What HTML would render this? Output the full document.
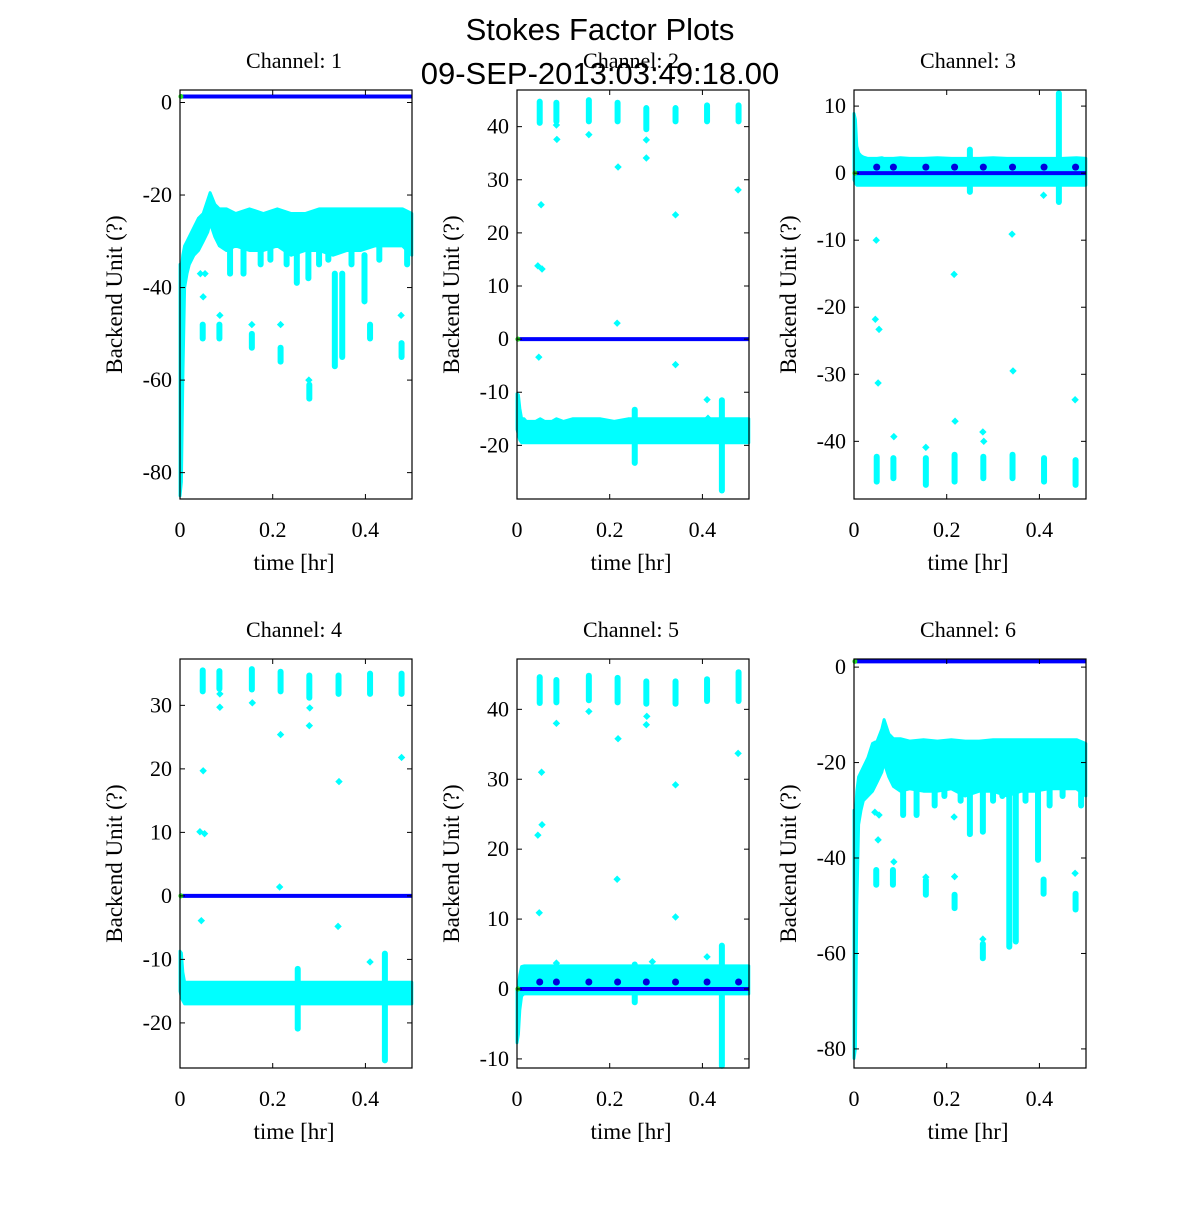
<!DOCTYPE html>
<html><head><meta charset="utf-8"><style>
html,body{margin:0;padding:0;background:#fff;}
svg text{font-family:"Liberation Serif",serif;fill:#000;}
</style></head><body>
<svg id="chart" width="1200" height="1200" viewBox="0 0 1200 1200" xmlns="http://www.w3.org/2000/svg">
<rect width="1200" height="1200" fill="#fff"/>
<text x="600" y="40" text-anchor="middle" style="font-family:'Liberation Sans',sans-serif;font-size:31px">Stokes Factor Plots</text>
<g id="panels"></g>
<text x="600" y="84" text-anchor="middle" style="font-family:'Liberation Sans',sans-serif;font-size:31px">09-SEP-2013:03:49:18.00</text>
</svg>
<script>
// shared band sample times (hr)
const bandT = [0,0.003,0.006,0.01,0.015,0.02,0.03,0.04,0.05,0.06,0.065,0.075,0.085,0.1,0.12,0.15,0.18,0.21,0.24,0.27,0.3,0.33,0.36,0.39,0.42,0.45,0.48,0.5];
const xTicks = [0,0.2,0.4];
const xTickLabels = ["0","0.2","0.4"];
const clusterT = [0.049,0.085,0.155,0.217,0.279,0.342,0.41,0.478];

// Channel 1
const c1Hi = [-35,-36,-33,-31,-30,-29,-27,-25,-24,-21,-19.5,-22,-23,-23,-24,-23,-24,-23,-24,-24,-23,-23,-23,-23,-23,-23,-23,-24];
const c1Lo = [-85,-82,-60,-40,-37,-35,-33,-32,-30,-28,-26,-29,-31,-32,-31,-32,-32,-31,-33,-32,-32,-33,-32,-32,-31,-31,-31,-33];
const c1SpT = [0.108,0.137,0.174,0.252,0.277,0.334,0.35,0.398,0.049,0.085,0.155,0.217,0.279,0.41,0.478,0.195,0.23,0.3,0.32,0.37,0.43,0.49];
const c1SpLo = [-37,-37,-35,-39,-38,-57,-55,-43,-51,-51,-53,-56,-64,-51,-55,-34,-35,-35,-34,-35,-34,-35];
const c1SpHi = [-30,-30,-30,-31,-31,-37,-37,-33,-48,-48,-50,-53,-61,-48,-52,-30,-30,-30,-30,-30,-30,-30];
const c1PtT = [0.046,0.044,0.054,0.05,0.086,0.155,0.217,0.278,0.477];
const c1PtV = [-27,-37,-37,-42,-46,-48,-48,-60,-46];
const c1Blue = [1.3];
const c1Ticks = [0,-20,-40,-60,-80];
const c1Range = [-85.7,2.7];

// Channel 2
const c2Hi = [-10.3,-10.5,-13,-15,-15,-15.5,-15.5,-15.5,-15,-15.5,-15.5,-15.5,-15,-15.5,-15,-15,-15,-15.5,-15,-15,-15,-15,-15,-15,-15,-15,-15,-15];
const c2Lo = [-17,-18,-19,-19.5,-19.5,-19.5,-19.5,-19.5,-19.5,-19.5,-19.5,-19.5,-19.5,-19.5,-19.5,-19.5,-19.5,-19.5,-19.5,-19.5,-19.5,-19.5,-19.5,-19.5,-19.5,-19.5,-19.5,-19.5];
const c2SpT = [0.254,0.442,0.049,0.085,0.155,0.217,0.279,0.342,0.41,0.478];
const c2SpLo = [-23.3,-28.5,40.7,41,41,41,39.5,41,41,41];
const c2SpHi = [-13.3,-11.5,44.7,44.5,45,44.5,43.5,43.5,44,44];
const c2PtT = [0.052,0.045,0.054,0.216,0.047,0.085,0.086,0.155,0.279,0.279,0.218,0.342,0.477,0.342,0.41,0.412];
const c2PtV = [25.3,13.8,13.2,3.0,-3.4,40.3,37.6,38.5,37.5,34.1,32.4,23.4,28.1,-4.8,-11.4,-14.9];
const c2Blue = [0];
const c2Ticks = [40,30,20,10,0,-10,-20];
const c2Range = [-30.1,46.9];

// Channel 3
const c3Hi = [8.9,8,4,3,2.6,2.4,2.2,2.2,2.2,2.3,2.2,2.2,2.2,2.3,2.2,2.2,2.3,2.2,2.2,2.2,2.3,2.2,2.2,2.2,2.2,2.2,2.3,2.2];
const c3Lo = [-1,-1.5,-1.8,-1.8,-1.8,-1.8,-1.8,-1.8,-1.8,-1.8,-1.8,-1.8,-1.8,-1.8,-1.8,-1.8,-1.8,-1.8,-1.8,-1.8,-1.8,-1.8,-1.8,-1.8,-1.8,-1.8,-1.8,-1.8];
const c3SpT = [0.442,0.25,0.049,0.085,0.155,0.217,0.279,0.342,0.41,0.478];
const c3SpLo = [-4.3,-2.8,-46,-45.5,-46.5,-46,-45.5,-45.5,-46,-46.5];
const c3SpHi = [11.9,3.5,-42.3,-42.5,-42.5,-42,-42.3,-42,-42.5,-42.8];
const c3PtT = [0.048,0.046,0.054,0.052,0.216,0.218,0.341,0.343,0.086,0.155,0.278,0.28,0.477,0.409];
const c3PtV = [-10,-21.8,-23.3,-31.3,-15.1,-37,-9.1,-29.5,-39.3,-40.9,-38.6,-40,-33.8,-3.3];
const c3Blue = [0];
const c3Dots = [0.9];
const c3Ticks = [10,0,-10,-20,-30,-40];
const c3Range = [-48.6,12.4];

// Channel 4
const c4Hi = [-8.7,-9,-12,-13.6,-13.6,-13.6,-13.6,-13.6,-13.6,-13.6,-13.6,-13.6,-13.6,-13.6,-13.6,-13.6,-13.6,-13.6,-13.6,-13.6,-13.6,-13.6,-13.6,-13.6,-13.6,-13.6,-13.6,-13.6];
const c4Lo = [-15,-16,-16.5,-17,-17,-17,-17,-17,-17,-17,-17,-17,-17,-17,-17,-17,-17,-17,-17,-17,-17,-17,-17,-17,-17,-17,-17,-17];
const c4SpT = [0.254,0.442,0.049,0.085,0.155,0.217,0.279,0.342,0.41,0.478];
const c4SpLo = [-20.9,-25.9,32.2,32.6,32.5,32.2,31.2,31.8,31.8,31.8];
const c4SpHi = [-11.5,-9.1,35.5,35.4,35.7,35.3,34.7,34.7,35,35];
const c4PtT = [0.05,0.043,0.053,0.215,0.046,0.086,0.086,0.156,0.28,0.279,0.217,0.343,0.478,0.341,0.41];
const c4PtV = [19.7,10.1,9.8,1.4,-3.9,31.8,29.7,30.4,29.6,26.8,25.4,18,21.8,-4.8,-10.4];
const c4Blue = [0];
const c4Ticks = [30,20,10,0,-10,-20];
const c4Range = [-27.1,37.3];

// Channel 5
const c5Hi = [0,0.5,2,3.2,3.3,3.3,3.3,3.3,3.3,3.3,3.3,3.3,3.3,3.3,3.3,3.3,3.3,3.3,3.3,3.3,3.3,3.3,3.3,3.3,3.3,3.3,3.3,3.3];
const c5Lo = [-7.7,-6.5,-3,-1,-0.7,-0.7,-0.7,-0.7,-0.7,-0.7,-0.7,-0.7,-0.7,-0.7,-0.7,-0.7,-0.7,-0.7,-0.7,-0.7,-0.7,-0.7,-0.7,-0.7,-0.7,-0.7,-0.7,-0.7];
const c5SpT = [0.442,0.254,0.049,0.085,0.155,0.217,0.279,0.342,0.41,0.478];
const c5SpLo = [-11,-1.9,40.9,41,41.3,41,40.8,40.8,41.2,41.2];
const c5SpHi = [6.2,3.5,44.6,44.2,44.8,44.5,44,44,44.3,45.3];
const c5PtT = [0.053,0.045,0.054,0.048,0.085,0.155,0.218,0.216,0.279,0.28,0.342,0.342,0.477,0.41,0.292,0.085];
const c5PtV = [31,22,23.5,10.9,38,39.7,35.8,15.7,37.8,39,29.2,10.3,33.7,4.6,3.9,3.7];
const c5Blue = [0];
const c5Dots = [1];
const c5Ticks = [40,30,20,10,0,-10];
const c5Range = [-11.3,47.2];

// Channel 6
const c6Hi = [-30,-31,-26,-23,-22,-21,-19,-16,-15.5,-13,-11,-14,-15,-15,-15.5,-15.2,-15.5,-15.2,-15.5,-15.5,-15.2,-15.2,-15.2,-15.2,-15.2,-15.2,-15.2,-16];
const c6Lo = [-82,-80,-50,-33,-30,-28,-27,-26,-24,-22,-20,-23,-25,-26,-25.5,-26,-26,-25.5,-27,-26,-26,-27,-26,-26,-25.5,-25.5,-25.5,-27];
const c6SpT = [0.106,0.135,0.174,0.25,0.278,0.335,0.349,0.397,0.422,0.048,0.084,0.155,0.217,0.278,0.409,0.478,0.195,0.23,0.3,0.32,0.37,0.45,0.49];
const c6SpLo = [-31,-31,-29,-35,-34.5,-58.6,-57.5,-40.4,-29,-45.6,-45.6,-47.7,-50.5,-61,-47.5,-50.8,-27,-28,-28,-27,-28,-27,-29];
const c6SpHi = [-24,-24,-24,-25,-25,-26,-26,-25,-24,-42.5,-42.5,-44.6,-47.7,-58,-44.5,-47.5,-22,-22,-22,-22,-22,-22,-22];
const c6PtT = [0.047,0.045,0.054,0.052,0.086,0.155,0.217,0.216,0.278,0.477];
const c6PtV = [-22.9,-30.4,-31,-36.2,-40.8,-44,-43.9,-31.4,-57,-43.2];
const c6Blue = [1.2];
const c6Ticks = [0,-20,-40,-60,-80];
const c6Range = [-84,1.7];

const panels = [
  {n:1,hi:c1Hi,lo:c1Lo,spT:c1SpT,spLo:c1SpLo,spHi:c1SpHi,ptT:c1PtT,ptV:c1PtV,blue:c1Blue,dots:null,ticks:c1Ticks,range:c1Range,col:0,row:0},
  {n:2,hi:c2Hi,lo:c2Lo,spT:c2SpT,spLo:c2SpLo,spHi:c2SpHi,ptT:c2PtT,ptV:c2PtV,blue:c2Blue,dots:null,ticks:c2Ticks,range:c2Range,col:1,row:0},
  {n:3,hi:c3Hi,lo:c3Lo,spT:c3SpT,spLo:c3SpLo,spHi:c3SpHi,ptT:c3PtT,ptV:c3PtV,blue:c3Blue,dots:c3Dots,ticks:c3Ticks,range:c3Range,col:2,row:0},
  {n:4,hi:c4Hi,lo:c4Lo,spT:c4SpT,spLo:c4SpLo,spHi:c4SpHi,ptT:c4PtT,ptV:c4PtV,blue:c4Blue,dots:null,ticks:c4Ticks,range:c4Range,col:0,row:1},
  {n:5,hi:c5Hi,lo:c5Lo,spT:c5SpT,spLo:c5SpLo,spHi:c5SpHi,ptT:c5PtT,ptV:c5PtV,blue:c5Blue,dots:c5Dots,ticks:c5Ticks,range:c5Range,col:1,row:1},
  {n:6,hi:c6Hi,lo:c6Lo,spT:c6SpT,spLo:c6SpLo,spHi:c6SpHi,ptT:c6PtT,ptV:c6PtV,blue:c6Blue,dots:null,ticks:c6Ticks,range:c6Range,col:2,row:1}
];

const NS = "http://www.w3.org/2000/svg";
const root = document.getElementById('panels');
const colX = [180,517,854], rowY = [90,659], W = 232, H = 409, XMAX = 0.5005;
function mk(tag, attrs, parent){const e=document.createElementNS(NS,tag);for(const k in attrs)e.setAttribute(k,attrs[k]);parent.appendChild(e);return e;}

panels.forEach(p=>{
  const x0=colX[p.col], y0=rowY[p.row];
  const sx=t=>x0+t/XMAX*W;
  const sy=v=>y0+(p.range[1]-v)/(p.range[1]-p.range[0])*H;
  const g=mk('g',{},root);
  
  
  const clipId='clip'+p.n;
  const cp=mk('clipPath',{id:clipId},g);
  mk('rect',{x:x0-4,y:y0-4,width:W+8,height:H+8},cp);
  const plot=mk('g',{'clip-path':'url(#'+clipId+')'},g);
  let d='M'+bandT.map((t,i)=>sx(t).toFixed(1)+','+sy(p.hi[i]).toFixed(1)).join('L');
  for(let i=bandT.length-1;i>=0;i--) d+='L'+sx(bandT[i]).toFixed(1)+','+sy(p.lo[i]).toFixed(1);
  const band=mk('path',{d:d+'Z',fill:'#00ffff',stroke:'#00ffff','stroke-width':3,'stroke-linejoin':'round'},plot);
  
  
  p.spT.forEach((t,i)=>{
    const r=mk('line',{x1:sx(t),x2:sx(t),y1:sy(p.spHi[i]),y2:sy(p.spLo[i]),stroke:'#00ffff','stroke-width':6,'stroke-linecap':'round'},plot);
    
    
  });
  p.ptT.forEach((t,i)=>{
    const cx=sx(t), cy=sy(p.ptV[i]);
    const m=mk('path',{d:`M${cx-3},${cy}L${cx},${cy-3}L${cx+3},${cy}L${cx},${cy+3}Z`,fill:'#00ffff',stroke:'#00ffff','stroke-width':1},plot);
    
    
  });
  const bl=mk('line',{x1:sx(0),x2:sx(XMAX),y1:sy(p.blue[0]),y2:sy(p.blue[0]),stroke:'#0000ff','stroke-width':4},plot);
  
  
  if(p.dots){
    clusterT.forEach(t=>{
      const dd=mk('circle',{cx:sx(t),cy:sy(p.dots[0]),r:3.5,fill:'#0000dd'},plot);
      
      
    });
  }
  const gd=mk('circle',{cx:sx(0.002),cy:sy(p.blue[0]),r:2.5,fill:'#22dd22'},plot);
  
  
  const box=mk('rect',{x:x0,y:y0,width:W,height:H,fill:'none',stroke:'#000','stroke-width':1.2},g);
  
  
  p.ticks.forEach(v=>{
    const y=sy(v);
    mk('line',{x1:x0,x2:x0+5,y1:y,y2:y,stroke:'#000','stroke-width':1},g);
    mk('line',{x1:x0+W-5,x2:x0+W,y1:y,y2:y,stroke:'#000','stroke-width':1},g);
    const tl=mk('text',{x:x0-8,y:y+7,'text-anchor':'end','font-size':22},g);
    tl.textContent=String(v);
    
    
  });
  xTicks.forEach((t,i)=>{
    const x=sx(t);
    mk('line',{x1:x,x2:x,y1:y0+H,y2:y0+H-5,stroke:'#000','stroke-width':1},g);
    mk('line',{x1:x,x2:x,y1:y0,y2:y0+5,stroke:'#000','stroke-width':1},g);
    const tl=mk('text',{x:x,y:y0+H+38,'text-anchor':'middle','font-size':22},g);
    tl.textContent=xTickLabels[i];
    
    
  });
  const title=mk('text',{x:x0+W/2-2,y:y0-22,'text-anchor':'middle','font-size':22},g);
  title.textContent='Channel: '+p.n;
  
  
  const xl=mk('text',{x:x0+W/2-2,y:y0+H+71,'text-anchor':'middle','font-size':23},g);
  xl.textContent='time [hr]';
  
  
  const yc=y0+H/2, xx=x0-58;
  const yl=mk('text',{x:xx,y:yc,'text-anchor':'middle','font-size':23,transform:`rotate(-90 ${xx} ${yc})`},g);
  yl.textContent='Backend Unit (?)';
  
  
});
</script>
</body></html>
